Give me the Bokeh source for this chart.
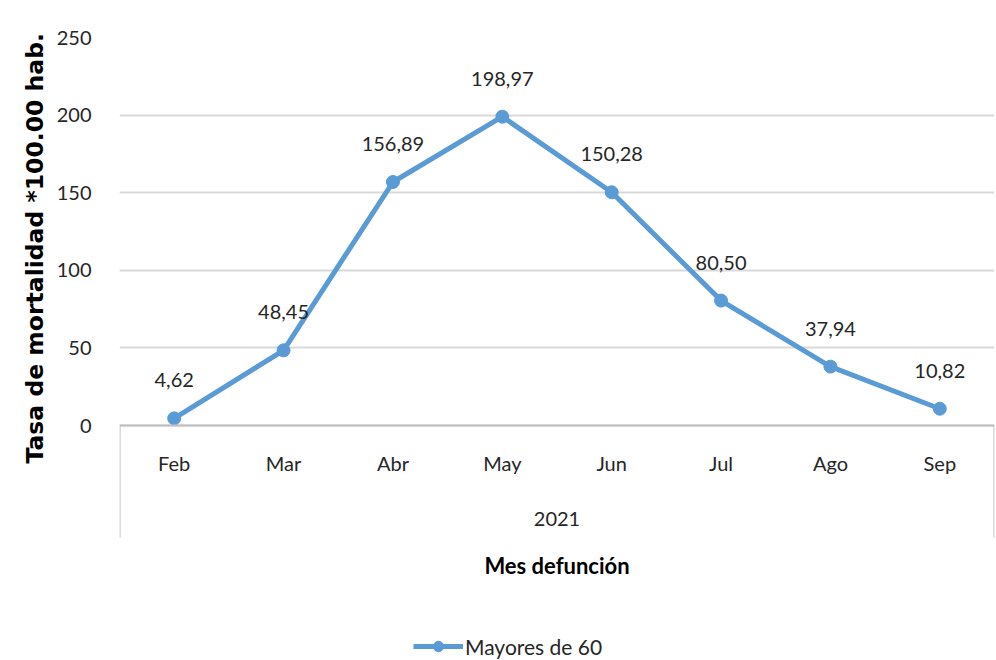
import math
from bokeh.plotting import figure
from bokeh.models import (Range1d, FixedTicker, ColumnDataSource, Label, Legend, LegendItem, Span, Title)
from bokeh.core.properties import value
from bokeh.embed import file_html
from bokeh.resources import INLINE

# ---- data ----
months = ["Feb", "Mar", "Abr", "May", "Jun", "Jul", "Ago", "Sep"]
rates = [4.62, 48.45, 156.89, 198.97, 150.28, 80.50, 37.94, 10.82]
year_label = "2021"
y_ticks = [0, 50, 100, 150, 200, 250]
series_name = "Mayores de 60"
y_title = "Tasa de mortalidad *100.00 hab."
x_title = "Mes defunción"

FONT = "Lato"
BLUE = "#5B9BD5"
GRID = "#D9D9D9"
TXT = "#262626"

Y_MIN = -151.4
SEP_BOTTOM = -72.2

xs = list(range(len(months)))
labels = [f"{v:.2f}".replace(".", ",") for v in rates]
src = ColumnDataSource(dict(x=xs, y=rates, lab=labels, m=months))

p = figure(width=996, height=660, output_backend="svg", toolbar_location=None,
           x_range=Range1d(-0.5, len(months) - 0.5), y_range=Range1d(Y_MIN, 250),
           min_border_left=119, min_border_right=2, min_border_top=37, min_border_bottom=0)
p.outline_line_color = None
p.background_fill_color = "white"
p.border_fill_color = "white"

p.xaxis.visible = False
p.xgrid.visible = False
p.ygrid.ticker = FixedTicker(ticks=y_ticks)
p.ygrid.grid_line_color = GRID
p.ygrid.grid_line_width = 2

p.yaxis.ticker = FixedTicker(ticks=y_ticks)
p.yaxis.axis_line_color = None
p.yaxis.major_tick_line_color = None
p.yaxis.minor_tick_line_color = None
p.yaxis.major_label_standoff = 22
p.yaxis.major_label_text_font = FONT
p.yaxis.major_label_text_font_size = "20px"
p.yaxis.major_label_text_color = TXT

# axis line at 0 and category group separators
p.add_layout(Span(location=0, dimension="width", line_color="#BFBFBF", line_width=2))
p.segment(x0=[-0.5, len(months) - 0.5], y0=[0, 0], x1=[-0.5, len(months) - 0.5],
          y1=[SEP_BOTTOM, SEP_BOTTOM], line_color=GRID, line_width=3)

# month labels and group label
p.text(x="x", y=0, text="m", source=src, y_offset=37, text_align="center", text_baseline="middle",
       text_font=value(FONT), text_font_size="20px", text_color=TXT)
p.text(x=[(len(months) - 1) / 2], y=[0], text=[year_label], y_offset=93, text_align="center",
       text_baseline="middle", text_font=value(FONT), text_font_size="20px", text_color=TXT)

# series
ln = p.line("x", "y", source=src, line_color=BLUE, line_width=5)
sc = p.scatter("x", "y", source=src, size=13, fill_color=BLUE, line_color=BLUE)
p.text(x="x", y="y", text="lab", source=src, y_offset=-38, text_align="center", text_baseline="middle",
       text_font=value(FONT), text_font_size="20px", text_color=TXT)

# titles
p.add_layout(Title(text=y_title, align="left", offset=197, text_font="DejaVu Sans",
                   text_font_style="bold", text_font_size="23.5px", text_color="#000000"), "left")
p.add_layout(Label(x=(len(months) - 1) / 2, y=-90.2, text=x_title, text_align="center",
                   text_baseline="middle", text_font=FONT, text_font_style="bold",
                   text_font_size="22px", text_color="#000000"))

legend = Legend(items=[LegendItem(label=series_name, renderers=[ln, sc])], location=(294, 1),
                orientation="horizontal", border_line_color=None, background_fill_alpha=0,
                label_text_font=FONT, label_text_font_size="21px", label_text_color=TXT,
                glyph_width=50, glyph_height=26, label_standoff=2, padding=2, margin=0)
p.add_layout(legend, "center")

open("out.html", "w").write(file_html(p, INLINE))
